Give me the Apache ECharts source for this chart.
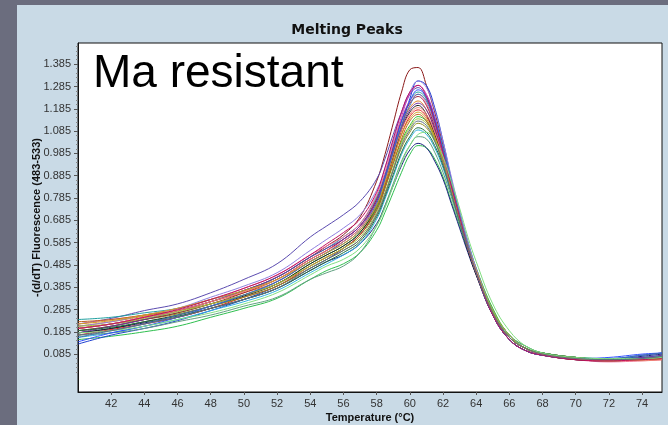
<!DOCTYPE html>
<html>
<head>
<meta charset="utf-8">
<script src="https://cdn.jsdelivr.net/npm/echarts@6/dist/echarts.min.js"></script>
<style>
html,body{margin:0;padding:0;width:668px;height:425px;overflow:hidden;background:#6b6d7e;}
#panel{position:absolute;left:17px;top:5px;width:651px;height:420px;background:#c9dae6;}
#chart{position:absolute;left:0;top:0;width:668px;height:425px;}
</style>
</head>
<body>
<div id="panel"></div>
<div id="chart"></div>
<script>
// Temperature sample points (°C)
const temperature = [40,42,44,46,48,50,52,54,55,56,57,58,58.5,59,59.5,60,60.5,61,61.5,62,62.5,63,63.5,64,65,66,67,68,70,72,74,75.2];

// -(d/dT) Fluorescence curves, one per sample
const curve01 = [0.20,0.22,0.25,0.28,0.32,0.37,0.43,0.52,0.57,0.62,0.70,0.86,0.98,1.12,1.26,1.36,1.37,1.29,1.17,1.02,0.86,0.71,0.57,0.45,0.26,0.15,0.10,0.08,0.06,0.055,0.065,0.07];
const curve02 = [0.15,0.165,0.185,0.21,0.25,0.29,0.335,0.42,0.46,0.49,0.54,0.64,0.72,0.81,0.90,0.98,1.02,1.01,0.96,0.88,0.77,0.66,0.55,0.45,0.27,0.16,0.11,0.09,0.07,0.065,0.07,0.075];
const curve03 = [0.18,0.20,0.225,0.25,0.29,0.33,0.38,0.46,0.50,0.53,0.58,0.67,0.75,0.84,0.93,1.00,1.03,1.01,0.95,0.87,0.76,0.65,0.54,0.44,0.26,0.16,0.11,0.085,0.07,0.06,0.075,0.085];
const curve04 = [0.22,0.245,0.28,0.31,0.36,0.42,0.49,0.61,0.66,0.71,0.77,0.87,0.96,1.07,1.17,1.25,1.28,1.23,1.13,1.00,0.85,0.71,0.58,0.46,0.27,0.16,0.11,0.085,0.065,0.06,0.065,0.07];
const curve05 = [0.13,0.17,0.20,0.235,0.28,0.33,0.39,0.47,0.51,0.56,0.62,0.73,0.83,0.96,1.10,1.23,1.31,1.29,1.19,1.04,0.87,0.71,0.57,0.45,0.26,0.15,0.10,0.08,0.065,0.065,0.08,0.09];
const curve06 = [0.20,0.22,0.25,0.28,0.32,0.37,0.42,0.51,0.55,0.60,0.66,0.78,0.89,1.02,1.15,1.25,1.29,1.25,1.15,1.01,0.85,0.70,0.57,0.46,0.27,0.16,0.11,0.085,0.06,0.055,0.06,0.065];
const curve07 = [0.24,0.25,0.27,0.29,0.33,0.37,0.43,0.52,0.56,0.61,0.67,0.79,0.89,1.01,1.13,1.22,1.26,1.23,1.14,1.01,0.86,0.72,0.59,0.47,0.28,0.17,0.11,0.09,0.07,0.06,0.065,0.07];
const curve08 = [0.21,0.23,0.255,0.28,0.32,0.36,0.41,0.50,0.54,0.59,0.65,0.77,0.87,0.99,1.11,1.19,1.22,1.18,1.09,0.97,0.83,0.69,0.56,0.45,0.27,0.16,0.11,0.085,0.065,0.06,0.06,0.065];
const curve09 = [0.17,0.195,0.22,0.25,0.29,0.34,0.39,0.48,0.52,0.56,0.62,0.74,0.84,0.96,1.07,1.15,1.18,1.15,1.07,0.96,0.83,0.70,0.57,0.46,0.28,0.17,0.11,0.09,0.07,0.06,0.06,0.06];
const curve10 = [0.19,0.21,0.24,0.27,0.31,0.35,0.40,0.49,0.53,0.57,0.63,0.74,0.83,0.94,1.04,1.11,1.15,1.13,1.06,0.96,0.83,0.70,0.58,0.47,0.29,0.17,0.12,0.09,0.07,0.065,0.065,0.07];
const curve11 = [0.22,0.24,0.26,0.29,0.33,0.38,0.44,0.53,0.57,0.61,0.67,0.80,0.90,1.03,1.14,1.22,1.25,1.21,1.11,0.98,0.84,0.70,0.57,0.45,0.26,0.15,0.10,0.08,0.06,0.05,0.055,0.06];
const curve12 = [0.18,0.20,0.23,0.26,0.30,0.345,0.40,0.49,0.53,0.57,0.63,0.75,0.85,0.97,1.09,1.17,1.20,1.16,1.07,0.95,0.82,0.68,0.55,0.44,0.26,0.15,0.10,0.08,0.06,0.055,0.06,0.065];
const curve13 = [0.20,0.22,0.24,0.265,0.30,0.34,0.39,0.47,0.51,0.55,0.60,0.71,0.80,0.91,1.01,1.08,1.12,1.10,1.04,0.94,0.82,0.69,0.57,0.46,0.28,0.17,0.11,0.09,0.07,0.06,0.065,0.07];
const curve14 = [0.16,0.18,0.21,0.24,0.28,0.32,0.37,0.45,0.49,0.53,0.58,0.69,0.78,0.88,0.98,1.05,1.09,1.07,1.01,0.92,0.80,0.68,0.56,0.45,0.27,0.17,0.11,0.09,0.07,0.065,0.07,0.08];
const curve15 = [0.19,0.21,0.24,0.27,0.31,0.36,0.42,0.51,0.55,0.60,0.66,0.78,0.88,1.01,1.13,1.21,1.24,1.20,1.10,0.97,0.83,0.69,0.56,0.45,0.26,0.15,0.10,0.08,0.06,0.055,0.06,0.065];
const curve16 = [0.21,0.23,0.26,0.29,0.34,0.39,0.45,0.55,0.60,0.65,0.71,0.82,0.92,1.04,1.17,1.26,1.31,1.28,1.18,1.04,0.88,0.73,0.59,0.47,0.28,0.16,0.11,0.085,0.065,0.06,0.065,0.07];
const curve17 = [0.23,0.24,0.26,0.28,0.31,0.35,0.40,0.48,0.52,0.56,0.62,0.73,0.83,0.94,1.05,1.13,1.16,1.13,1.05,0.94,0.81,0.68,0.56,0.45,0.27,0.16,0.11,0.085,0.065,0.06,0.06,0.065];
const curve18 = [0.17,0.18,0.20,0.23,0.26,0.30,0.34,0.42,0.45,0.48,0.54,0.66,0.75,0.85,0.95,1.02,1.06,1.05,0.99,0.90,0.79,0.67,0.56,0.46,0.28,0.17,0.12,0.09,0.07,0.06,0.065,0.07];
const curve19 = [0.14,0.18,0.21,0.25,0.30,0.35,0.41,0.50,0.54,0.59,0.65,0.77,0.88,1.00,1.13,1.22,1.27,1.24,1.14,1.00,0.85,0.70,0.57,0.45,0.26,0.15,0.10,0.08,0.065,0.07,0.085,0.09];
const curve20 = [0.18,0.21,0.24,0.28,0.32,0.37,0.43,0.52,0.56,0.60,0.66,0.77,0.87,0.99,1.10,1.18,1.21,1.18,1.09,0.97,0.83,0.69,0.56,0.45,0.27,0.16,0.11,0.085,0.065,0.06,0.07,0.08];
const curve21 = [0.21,0.22,0.245,0.275,0.31,0.35,0.40,0.48,0.52,0.56,0.61,0.72,0.81,0.92,1.03,1.10,1.14,1.12,1.05,0.95,0.82,0.69,0.57,0.46,0.28,0.17,0.11,0.09,0.07,0.06,0.06,0.065];
const curve22 = [0.20,0.22,0.25,0.28,0.32,0.365,0.42,0.51,0.55,0.59,0.65,0.76,0.86,0.98,1.09,1.16,1.19,1.16,1.08,0.97,0.84,0.70,0.57,0.46,0.27,0.16,0.11,0.085,0.065,0.055,0.055,0.06];
const curve23 = [0.19,0.205,0.23,0.255,0.29,0.33,0.38,0.46,0.50,0.54,0.59,0.70,0.79,0.89,0.99,1.06,1.10,1.08,1.02,0.93,0.81,0.68,0.56,0.45,0.27,0.16,0.11,0.09,0.07,0.06,0.065,0.07];
const curve24 = [0.16,0.19,0.22,0.26,0.30,0.35,0.41,0.50,0.54,0.58,0.64,0.76,0.87,0.99,1.11,1.20,1.25,1.22,1.12,0.99,0.84,0.70,0.57,0.45,0.26,0.15,0.10,0.08,0.065,0.065,0.08,0.09];
const curve25 = [0.22,0.235,0.26,0.29,0.33,0.37,0.42,0.50,0.54,0.58,0.64,0.75,0.85,0.96,1.07,1.14,1.17,1.14,1.06,0.95,0.82,0.69,0.56,0.45,0.27,0.16,0.11,0.085,0.065,0.055,0.06,0.065];
const curve26 = [0.20,0.22,0.25,0.285,0.33,0.38,0.44,0.53,0.58,0.63,0.69,0.81,0.92,1.05,1.17,1.26,1.29,1.24,1.13,0.99,0.84,0.70,0.56,0.45,0.26,0.15,0.10,0.08,0.06,0.055,0.06,0.065];
const curve27 = [0.18,0.19,0.21,0.24,0.27,0.31,0.36,0.44,0.48,0.51,0.56,0.66,0.74,0.84,0.94,1.02,1.07,1.08,1.04,0.97,0.86,0.74,0.61,0.50,0.31,0.19,0.12,0.09,0.07,0.065,0.065,0.07];
const curve28 = [0.17,0.19,0.22,0.25,0.29,0.33,0.38,0.47,0.51,0.55,0.60,0.71,0.80,0.91,1.02,1.09,1.13,1.11,1.04,0.94,0.81,0.68,0.56,0.45,0.27,0.16,0.11,0.085,0.065,0.06,0.065,0.075];

const curves = [curve01,curve02,curve03,curve04,curve05,curve06,curve07,curve08,curve09,curve10,curve11,curve12,curve13,curve14,curve15,curve16,curve17,curve18,curve19,curve20,curve21,curve22,curve23,curve24,curve25,curve26,curve27,curve28];

// Axis tick labels
const yTickLabels = [0.085,0.185,0.285,0.385,0.485,0.585,0.685,0.785,0.885,0.985,1.085,1.185,1.285,1.385];
const yMinorTicks = [0.005,0.025,0.045,0.065,0.105,0.125,0.145,0.165,0.205,0.225,0.245,0.265,0.305,0.325,0.345,0.365,0.405,0.425,0.445,0.465,0.505,0.525,0.545,0.565,0.605,0.625,0.645,0.665,0.705,0.725,0.745,0.765,0.805,0.825,0.845,0.865,0.905,0.925,0.945,0.965,1.005,1.025,1.045,1.065,1.105,1.125,1.145,1.165,1.205,1.225,1.245,1.265,1.305,1.325,1.345,1.365,1.405,1.425,1.445,1.465];
const xTickLabels = [42,44,46,48,50,52,54,56,58,60,62,64,66,68,70,72,74];

const palette = ['#8b1a1a','#2fbf4f','#1a237e','#5b4bb0','#1f3fd0','#c040c0','#20a0a0','#e08020','#e02020','#30c030','#f070a0','#202020','#909020','#30b0e0','#a02040','#9080e0','#c06020','#60a080','#3050ff','#7030a0','#a0c040','#f08070','#207040','#4070b0','#d0a020','#c01060','#80e080','#607080'];

const chart = echarts.init(document.getElementById('chart'), null, {renderer:'canvas'});
const series = curves.map((c, i) => ({
  type: 'line',
  name: 'S' + (i + 1),
  data: temperature.map((t, j) => [t, c[j]]),
  symbol: 'none',
  smooth: 0.4,
  lineStyle: { width: 1, color: palette[i % palette.length] },
  emphasis: { disabled: true },
  z: 2
}));

const option = {
  animation: false,
  title: {
    text: 'Melting Peaks',
    left: 342, top: 18, textAlign: 'center',
    textStyle: { fontFamily: 'DejaVu Sans', fontWeight: 'bold', fontSize: 14, color: '#111' }
  },
  grid: {
    left: 78, top: 43, right: 6, bottom: 33,
    outerBoundsMode: 'none', containLabel: false,
    show: true, backgroundColor: '#ffffff', borderColor: '#111', borderWidth: 1
  },
  xAxis: {
    type: 'value', min: 40, max: 75.2,
    name: 'Temperature (°C)', nameLocation: 'middle', nameGap: 20, nameMoveOverlap: false,
    nameTextStyle: { fontFamily: 'Liberation Sans', fontWeight: 'bold', fontSize: 11, color: '#111' },
    axisLine: { show: true, onZero: false, lineStyle: { color: '#111' } },
    axisTick: { show: true, customValues: xTickLabels, length: 3, lineStyle: { color: '#555' } },
    axisLabel: { customValues: xTickLabels, margin: 6, fontFamily: 'Liberation Sans', fontSize: 11, color: '#333' },
    splitLine: { show: false }
  },
  yAxis: [{
    type: 'value', min: -0.085, max: 1.48,
    name: '-(d/dT) Fluorescence (483-533)', nameLocation: 'middle', nameGap: 36, nameMoveOverlap: false,
    nameTextStyle: { fontFamily: 'Liberation Sans', fontWeight: 'bold', fontSize: 11, color: '#111' },
    axisLine: { show: true, onZero: false, lineStyle: { color: '#111' } },
    axisTick: { show: true, customValues: yTickLabels, length: 4, lineStyle: { color: '#555' } },
    axisLabel: { customValues: yTickLabels, margin: 7, fontFamily: 'Liberation Sans', fontSize: 11, color: '#333',
      formatter: v => v.toFixed(3) },
    splitLine: { show: false }
  }, {
    type: 'value', min: -0.085, max: 1.48, position: 'left',
    axisLine: { show: false, onZero: false },
    axisTick: { show: true, customValues: yMinorTicks, length: 2, lineStyle: { color: '#888' } },
    axisLabel: { show: false },
    splitLine: { show: false }
  }],
  graphic: [{
    type: 'text', left: 93, top: 51, z: 10,
    style: { text: 'Ma resistant', fontFamily: 'Liberation Sans', fontSize: 46, fill: '#000' }
  }],
  series: series
};
chart.setOption(option);
</script>
</body>
</html>
